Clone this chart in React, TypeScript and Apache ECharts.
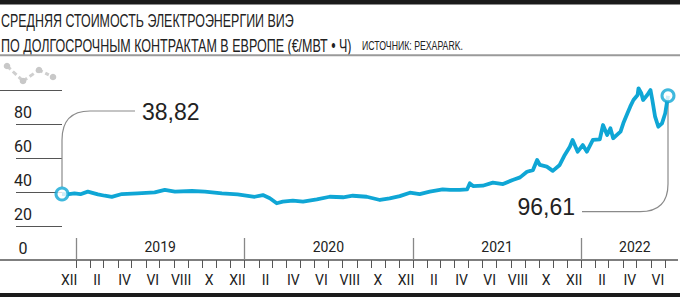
import React, { useEffect, useRef } from 'react';
import * as echarts from 'echarts';

const dates = [
  '2018-12-01', '2018-12-12', '2018-12-28', '2019-01-10', '2019-01-26', '2019-02-17', '2019-03-04', '2019-03-19',
  '2019-04-10', '2019-05-14', '2019-06-20', '2019-07-12', '2019-08-03', '2019-09-09', '2019-10-07', '2019-11-13',
  '2019-12-17', '2020-01-23', '2020-02-10', '2020-02-25', '2020-03-11', '2020-03-24', '2020-04-15', '2020-05-07',
  '2020-06-06', '2020-07-04', '2020-08-02', '2020-08-23', '2020-09-22', '2020-10-21', '2020-11-11', '2020-12-03',
  '2020-12-25', '2021-01-15', '2021-02-06', '2021-03-06', '2021-03-22', '2021-04-12', '2021-04-28', '2021-05-04',
  '2021-05-11', '2021-06-01', '2021-06-23', '2021-07-15', '2021-08-05', '2021-08-21', '2021-09-05', '2021-09-18',
  '2021-09-27', '2021-10-03', '2021-10-18', '2021-10-31', '2021-11-15', '2021-11-26', '2021-12-07', '2021-12-13',
  '2021-12-24', '2022-01-04', '2022-01-13', '2022-01-26', '2022-02-10', '2022-02-17', '2022-02-26', '2022-03-05',
  '2022-03-11', '2022-03-27', '2022-04-02', '2022-04-11', '2022-04-17', '2022-04-24', '2022-05-03', '2022-05-05',
  '2022-05-11', '2022-05-15', '2022-05-24', '2022-05-31', '2022-06-04', '2022-06-10', '2022-06-17', '2022-06-25',
  '2022-07-02', '2022-07-08',
];
const values = [
  38.82, 38.6, 39.2, 38.7, 40.2, 38.6, 37.8, 37.1,
  38.8, 39.2, 39.8, 41.2, 40.2, 40.6, 40.2, 39.2,
  38.6, 37.2, 38.2, 36.3, 33.4, 34.3, 34.9, 34.3,
  35.7, 37.2, 36.9, 37.8, 37.2, 35.3, 36.3, 37.6,
  39.6, 38.8, 40.2, 41.6, 41.2, 41.2, 41.5, 45.1,
  43.5, 43.7, 45.5, 44.7, 47.1, 48.6, 51.9, 52.9,
  58.8, 55.9, 54.9, 52.4, 55.9, 61.8, 66.6, 70.6,
  63.7, 67.6, 63.7, 70.6, 71.0, 79.4, 73.5, 77.5,
  71.6, 75.5, 80.4, 86.3, 90.2, 94.1, 97.1, 101.0,
  98.1, 94.1, 97.1, 100.0, 94.1, 84.3, 78.4, 80.4,
  86.3, 96.61,
];

const axisStart = '2018-12-01';
const axisEnd = '2022-07-08';
const yearLabels = ['2019', '2020', '2021', '2022'];
const yearLabelCenters = ['2019-07-02', '2020-07-01', '2021-07-02', '2022-04-27'];
const yearStarts = ['2019-01-01', '2020-01-01', '2021-01-01', '2022-01-01'];
const monthLabelMonths = [
  '2018-12', '2019-02', '2019-04', '2019-06', '2019-08', '2019-10', '2019-12',
  '2020-02', '2020-04', '2020-06', '2020-08', '2020-10', '2020-12',
  '2021-02', '2021-04', '2021-06', '2021-08', '2021-10', '2021-12',
  '2022-02', '2022-04', '2022-06',
];
const romans = ['I', 'II', 'III', 'IV', 'V', 'VI', 'VII', 'VIII', 'IX', 'X', 'XI', 'XII'];
const yTickValues = [20, 40, 60, 80];
const yLabelValues = [0, 20, 40, 60, 80];
const yTopTick = [100];
const titleLine1 = 'СРЕДНЯЯ СТОИМОСТЬ ЭЛЕКТРОЭНЕРГИИ ВИЭ';
const titleLine2 = 'ПО ДОЛГОСРОЧНЫМ КОНТРАКТАМ В ЕВРОПЕ (€/МВТ • Ч)';
const sourceText = 'ИСТОЧНИК: PEXAPARK.';
const startLabel = '38,82';
const endLabel = '96,61';

const TFONT = 'Liberation Sans';
const AFONT = 'Roboto, "Liberation Sans", sans-serif';
const SANS = '"Liberation Sans", Arial, sans-serif';
const LINE = '#0fa6d5';
const TXT = '#222';
const GRID = '#555';

const DAY = 86400000;
const base = Date.UTC(2018, 11, 1);
function dayIndex(s: string): number {
  const p = s.split('-').map(Number);
  return (Date.UTC(p[0], p[1] - 1, p[2] || 1) - base) / DAY;
}
let ctx: CanvasRenderingContext2D | null = null;
function measure(text: string, size: number, family: string): number {
  if (!ctx) ctx = document.createElement('canvas').getContext('2d');
  if (!ctx) return text.length * size * 0.6;
  ctx.font = `${size}px "${family}"`;
  return ctx.measureText(text).width;
}

export default function App() {
  const ref = useRef<HTMLDivElement>(null);
  useEffect(() => {
    if (!ref.current) return;
    const chart = echarts.init(ref.current, undefined, { renderer: 'svg' });

    const seriesData = dates.map((d, i) => [dayIndex(d), values[i]]);
    const endPoints = [seriesData[0], seriesData[seriesData.length - 1]];

    const monthTicks: number[] = [];
    for (let y = 2019; y <= 2022; y++) {
      for (let m = 1; m <= 12; m++) {
        if (y === 2022 && m > 7) break;
        monthTicks.push((Date.UTC(y, m - 1, 1) - base) / DAY);
      }
    }
    const monthLabelMap: Record<string, string> = {};
    const monthLabelPos = monthLabelMonths.map((s) => {
      const [y, m] = s.split('-').map(Number);
      const a = (Date.UTC(y, m - 1, 1) - base) / DAY;
      const b = (Date.UTC(y, m, 1) - base) / DAY;
      const c = (a + b) / 2;
      monthLabelMap[String(c)] = romans[m - 1];
      return c;
    });
    const yearMap: Record<string, string> = {};
    const yearPos = yearLabelCenters.map((s, i) => {
      const v = dayIndex(s);
      yearMap[String(v)] = yearLabels[i];
      return v;
    });
    const yearTickPos = yearStarts.map(dayIndex);
    const xMin = dayIndex(axisStart);
    const xMax = dayIndex(axisEnd);

    const sx1 = 293 / measure(titleLine1, 19, TFONT);
    const sx2 = 351 / measure(titleLine2, 19, TFONT);
    const sx3 = 101 / measure(sourceText, 13, TFONT);

    const staticGraphics: any[] = [
      { type: 'rect', shape: { x: 0, y: 0, width: 680, height: 4.5 }, style: { fill: '#1b1b1b' } },
      { type: 'text', x: 1, y: 20, scaleX: sx1, style: { text: titleLine1, fontSize: 19, fontFamily: TFONT, fill: TXT, verticalAlign: 'middle', align: 'left' } },
      { type: 'text', x: 1, y: 45, scaleX: sx2, style: { text: titleLine2, fontSize: 19, fontFamily: TFONT, fill: TXT, verticalAlign: 'middle', align: 'left' } },
      { type: 'text', x: 362, y: 45.5, scaleX: sx3, style: { text: sourceText, fontSize: 13, fontFamily: TFONT, fill: TXT, verticalAlign: 'middle', align: 'left' } },
      { type: 'rect', shape: { x: 0, y: 54.3, width: 680, height: 2 }, style: { fill: '#9a9a9a' } },
      { type: 'line', shape: { x1: 7, y1: 66, x2: 23, y2: 81 }, style: { stroke: '#cfcfcf', lineWidth: 3, lineDash: [5, 3] } },
      { type: 'line', shape: { x1: 23, y1: 81, x2: 39, y2: 70 }, style: { stroke: '#cfcfcf', lineWidth: 3, lineDash: [5, 3] } },
      { type: 'line', shape: { x1: 39, y1: 70, x2: 53, y2: 77 }, style: { stroke: '#cfcfcf', lineWidth: 3, lineDash: [4, 3] } },
      { type: 'circle', shape: { cx: 7, cy: 66, r: 3.3 }, style: { fill: '#c8c8c8' } },
      { type: 'circle', shape: { cx: 23, cy: 81, r: 3.3 }, style: { fill: '#c8c8c8' } },
      { type: 'circle', shape: { cx: 39, cy: 70, r: 3.3 }, style: { fill: '#c8c8c8' } },
      { type: 'circle', shape: { cx: 53, cy: 77, r: 3.3 }, style: { fill: '#c8c8c8' } },
      { type: 'line', shape: { x1: 0, y1: 260, x2: 678, y2: 260 }, style: { stroke: GRID, lineWidth: 1.3 } },
      { type: 'rect', shape: { x: 0, y: 293, width: 680, height: 4 }, style: { fill: '#1b1b1b' } },
    ];

    chart.setOption({
      animation: false,
      backgroundColor: '#fff',
      grid: { left: 62, right: 12, top: 73, bottom: 37, outerBoundsMode: 'none' },
      xAxis: [
        {
          type: 'value', min: xMin, max: xMax, position: 'bottom', offset: 0,
          axisLine: { show: false }, splitLine: { show: false },
          axisTick: { show: true, customValues: monthTicks, length: 8, lineStyle: { color: GRID, width: 1 } },
          axisLabel: {
            show: true, customValues: monthLabelPos, margin: 20, verticalAlign: 'middle',
            fontSize: 14, fontFamily: AFONT, color: TXT,
            formatter: (v: number) => monthLabelMap[String(v)] || '',
          },
        },
        {
          type: 'value', min: xMin, max: xMax, position: 'bottom', offset: 0,
          axisLine: { show: false }, splitLine: { show: false },
          axisTick: { show: true, inside: true, customValues: yearTickPos, length: 22, lineStyle: { color: '#888', width: 1.3 } },
          axisLabel: {
            show: true, inside: true, customValues: yearPos, margin: 13, verticalAlign: 'middle',
            fontSize: 14, fontFamily: AFONT, color: TXT,
            formatter: (v: number) => yearMap[String(v)] || '',
          },
        },
      ],
      yAxis: [
        {
          type: 'value', min: 0, max: 110, position: 'left', offset: 16,
          axisLine: { show: false }, splitLine: { show: false },
          axisTick: { show: true, customValues: yTickValues, length: 46, lineStyle: { color: GRID, width: 1 } },
          axisLabel: {
            show: true, customValues: yLabelValues, margin: 23, align: 'center', verticalAlign: 'bottom', lineHeight: 23,
            fontSize: 16, fontFamily: AFONT, color: TXT,
          },
        },
        {
          type: 'value', min: 0, max: 110, position: 'left', offset: 0,
          axisLine: { show: false }, splitLine: { show: false },
          axisTick: { show: true, customValues: yTopTick, length: 62, lineStyle: { color: GRID, width: 1 } },
          axisLabel: { show: false },
        },
      ],
      series: [
        {
          type: 'line', data: seriesData, xAxisIndex: 0, yAxisIndex: 0,
          showSymbol: false, symbol: 'none', clip: false,
          lineStyle: { color: LINE, width: 3.8, join: 'round' }, z: 2,
        },
        {
          type: 'scatter', data: endPoints, xAxisIndex: 0, yAxisIndex: 0,
          symbol: 'circle', symbolSize: 12, clip: false,
          itemStyle: { color: '#fff', borderColor: LINE, borderWidth: 3 }, z: 4,
        },
      ],
      graphic: staticGraphics,
    });

    const p0 = chart.convertToPixel({ xAxisIndex: 0, yAxisIndex: 0 }, endPoints[0] as any) as number[];
    const p1 = chart.convertToPixel({ xAxisIndex: 0, yAxisIndex: 0 }, endPoints[1] as any) as number[];
    const cs = { stroke: '#8a8a8a', lineWidth: 1.2, fill: 'none' };
    const connectors: any[] = [
      { type: 'line', shape: { x1: p0[0], y1: p0[1] - 7, x2: p0[0], y2: 140 }, style: cs, z: 1 },
      { type: 'bezierCurve', shape: { x1: p0[0], y1: 140, cpx1: p0[0], cpy1: 111, x2: p0[0] + 28, y2: 111 }, style: cs, z: 1 },
      { type: 'line', shape: { x1: p0[0] + 28, y1: 111, x2: 135, y2: 111 }, style: cs, z: 1 },
      { type: 'text', x: 142, y: 112, style: { text: startLabel, fontSize: 23, fontFamily: SANS, fill: TXT, verticalAlign: 'middle', align: 'left' } },
      { type: 'line', shape: { x1: p1[0], y1: p1[1] + 4, x2: p1[0], y2: 184 }, style: cs, z: 1 },
      { type: 'bezierCurve', shape: { x1: p1[0], y1: 184, cpx1: p1[0], cpy1: 211.7, x2: p1[0] - 28, y2: 211.7 }, style: cs, z: 1 },
      { type: 'line', shape: { x1: p1[0] - 28, y1: 211.7, x2: 582, y2: 211.7 }, style: cs, z: 1 },
      { type: 'text', x: 575, y: 207, style: { text: endLabel, fontSize: 23, fontFamily: SANS, fill: TXT, verticalAlign: 'middle', align: 'right' } },
    ];
    chart.setOption({ graphic: staticGraphics.concat(connectors) });

    return () => chart.dispose();
  }, []);
  return <div ref={ref} style={{ position: 'fixed', left: 0, top: 0, width: 680, height: 297, background: '#fff' }} />;
}
